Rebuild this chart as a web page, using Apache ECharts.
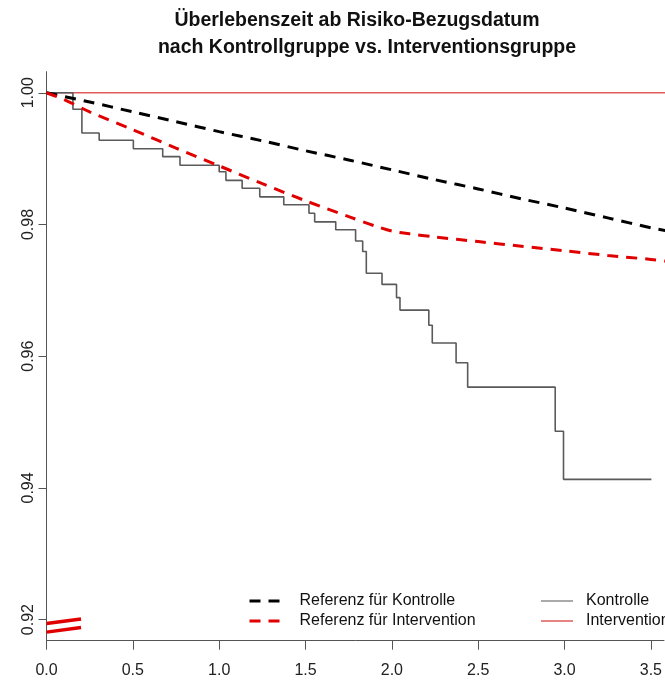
<!DOCTYPE html>
<html>
<head>
<meta charset="utf-8">
<script src="https://cdn.jsdelivr.net/npm/echarts@6/dist/echarts.min.js"></script>
<style>
  html, body { margin: 0; padding: 0; background: #fff; }
  #chart { width: 665px; height: 684px; }
</style>
</head>
<body>
<div id="chart"></div>
<script>
// Kaplan-Meier estimate for the control group (time in years, survival at each event)
const kontrolleTime = [0, 0.153, 0.205, 0.305, 0.503, 0.673, 0.773, 1.000, 1.039, 1.133, 1.235,
  1.374, 1.520, 1.553, 1.675, 1.790, 1.831, 1.852, 1.943, 2.027, 2.047, 2.214, 2.234,
  2.372, 2.439, 2.946, 2.994, 3.503];
const kontrolleSurv = [1.0, 0.9975, 0.9939, 0.9928, 0.9915, 0.9903, 0.9890, 0.9880, 0.9867, 0.9855, 0.9842,
  0.9830, 0.9817, 0.9804, 0.9792, 0.9775, 0.9759, 0.9726, 0.9709, 0.9689, 0.9670, 0.9647, 0.9620,
  0.9590, 0.9553, 0.9486, 0.9413, 0.9413];

// Intervention group: no events during follow-up
const interventionTime = [0, 3.6];
const interventionSurv = [1.0, 1.0];

// Expected (reference) survival for the control group
const refKontrolleTime = [0, 0.25, 0.5, 0.75, 1.0, 1.25, 1.5, 1.75, 2.0, 2.25, 2.5, 2.75, 3.0, 3.25, 3.5, 3.6];
const refKontrolleSurv = [1.0, 0.9986, 0.9971, 0.9956, 0.9941, 0.9927, 0.9912, 0.9898, 0.9883, 0.9868, 0.9854,
  0.9839, 0.9825, 0.9810, 0.9795, 0.9790];

// Expected (reference) survival for the intervention group
const refInterventionTime = [0, 0.1, 0.25, 0.5, 0.75, 1.0, 1.25, 1.5, 1.75, 1.9, 2.0, 2.1, 2.25, 2.5, 2.75, 3.0, 3.25, 3.5, 3.6];
const refInterventionSurv = [1.0, 0.9990, 0.9971, 0.9944, 0.9916, 0.9889, 0.9862, 0.9836, 0.9812, 0.9798, 0.9790,
  0.9786, 0.9781, 0.9774, 0.9767, 0.9760, 0.9753, 0.9747, 0.9744];

// Two short red strokes near the origin
const strokeTime = [0, 0.2];
const strokeUpper = [0.9194, 0.9201];
const strokeLower = [0.9181, 0.9188];

// Axis ticks
const xTicks = [0, 0.5, 1.0, 1.5, 2.0, 2.5, 3.0, 3.5];
const yTicks = [0.92, 0.94, 0.96, 0.98, 1.00];

const titleLines = ['Überlebenszeit ab Risiko-Bezugsdatum', 'nach Kontrollgruppe vs. Interventionsgruppe'];

const zip = (xs, ys) => xs.map((x, i) => [x, ys[i]]);

const FONT = '"Liberation Sans", Arial, sans-serif';
const AXIS_COLOR = '#555';
const DASH = [11, 8];

const chart = echarts.init(document.getElementById('chart'), null, { renderer: 'canvas' });

const titleStyle = { fontFamily: FONT, fontSize: 19.5, fontWeight: 'bold', color: '#111' };
const legendText = { fontFamily: FONT, fontSize: 16, color: '#111', lineHeight: 16 };

chart.setOption({
  animation: false,
  backgroundColor: '#fff',
  title: [
    { text: titleLines[0], left: 352, top: 6, textAlign: 'center', textStyle: titleStyle },
    { text: titleLines[1], left: 362, top: 33, textAlign: 'center', textStyle: titleStyle }
  ],
  grid: { left: 46.5, right: 0, top: 71.7, bottom: 43.3, containLabel: false },
  xAxis: {
    type: 'value',
    min: 0,
    max: 3.576,
    splitLine: { show: false },
    axisLine: { show: true, onZero: false, lineStyle: { color: AXIS_COLOR, width: 1 } },
    axisTick: { show: true, length: 9, customValues: xTicks, lineStyle: { color: AXIS_COLOR } },
    axisLabel: {
      customValues: xTicks,
      formatter: v => v.toFixed(1),
      margin: 22,
      fontFamily: FONT, fontSize: 16, color: '#222'
    }
  },
  yAxis: {
    type: 'value',
    min: 0.9168,
    max: 1.0032,
    splitLine: { show: false },
    axisLine: { show: true, onZero: false, lineStyle: { color: AXIS_COLOR, width: 1 } },
    axisTick: { show: true, length: 8, customValues: yTicks, lineStyle: { color: AXIS_COLOR } },
    axisLabel: {
      customValues: yTicks,
      formatter: v => v.toFixed(2),
      rotate: 90,
      margin: 10,
      fontFamily: FONT, fontSize: 16, color: '#222'
    }
  },
  legend: [
    {
      orient: 'vertical',
      left: 248,
      top: 593,
      padding: 0,
      itemWidth: 32,
      itemHeight: 16,
      itemGap: 4,
      itemStyle: { opacity: 0 },
      textStyle: Object.assign({ padding: [0, 0, 0, 13] }, legendText),
      data: [
        { name: 'Referenz für Kontrolle', lineStyle: { color: '#000', width: 3, type: DASH } },
        { name: 'Referenz für Intervention', lineStyle: { color: '#e00000', width: 3, type: DASH } }
      ]
    },
    {
      orient: 'vertical',
      left: 540,
      top: 593,
      padding: 0,
      itemWidth: 32,
      itemHeight: 16,
      itemGap: 4,
      itemStyle: { opacity: 0 },
      textStyle: Object.assign({ padding: [0, 0, 0, 8] }, legendText),
      data: [
        { name: 'Kontrolle', lineStyle: { color: '#aaa', width: 2, type: 'solid' } },
        { name: 'Intervention', lineStyle: { color: '#e05a5a', width: 1.5, type: 'solid' } }
      ]
    }
  ],
  series: [
    {
      name: 'Intervention',
      type: 'line',
      data: zip(interventionTime, interventionSurv),
      symbol: 'none',
      lineStyle: { color: '#e05a5a', width: 1.5 },
      itemStyle: { color: '#e05a5a' },
      z: 1
    },
    {
      name: 'Kontrolle',
      type: 'line',
      step: 'end',
      data: zip(kontrolleTime, kontrolleSurv),
      symbol: 'none',
      lineStyle: { color: '#5a5a5a', width: 1.6 },
      itemStyle: { color: '#5a5a5a' },
      z: 2
    },
    {
      name: 'Referenz für Kontrolle',
      type: 'line',
      smooth: 0.3,
      data: zip(refKontrolleTime, refKontrolleSurv),
      symbol: 'none',
      lineStyle: { color: '#000', width: 3, type: DASH },
      itemStyle: { color: '#000' },
      z: 3
    },
    {
      name: 'Referenz für Intervention',
      type: 'line',
      smooth: 0.3,
      data: zip(refInterventionTime, refInterventionSurv),
      symbol: 'none',
      lineStyle: { color: '#e00000', width: 3, type: DASH },
      itemStyle: { color: '#e00000' },
      z: 3
    },
    {
      type: 'line',
      data: zip(strokeTime, strokeUpper),
      symbol: 'none',
      silent: true,
      lineStyle: { color: '#e00000', width: 3.5 },
      z: 4
    },
    {
      type: 'line',
      data: zip(strokeTime, strokeLower),
      symbol: 'none',
      silent: true,
      lineStyle: { color: '#e00000', width: 3.5 },
      z: 4
    }
  ]
});
</script>
</body>
</html>
